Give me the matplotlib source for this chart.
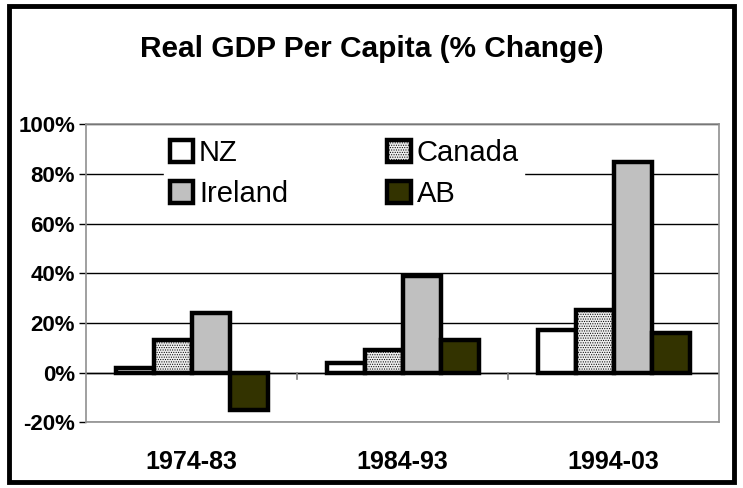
import matplotlib
matplotlib.use("Agg")
import matplotlib.pyplot as plt
import numpy as np
from matplotlib.patches import Rectangle

plt.rcParams["font.family"] = ["Liberation Sans", "DejaVu Sans"]
plt.rcParams["hatch.color"] = "#999999"
plt.rcParams["hatch.linewidth"] = 0.5

periods = ["1974-83", "1984-93", "1994-03"]
nz = [2, 4, 17]
canada = [13, 9, 25]
ireland = [24, 39, 85]
ab = [-15, 13, 16]
series = ["NZ", "Canada", "Ireland", "AB"]
yticks = [-20, 0, 20, 40, 60, 80, 100]

styles = [dict(color="white"), dict(color="#eeeeee", hatch="......."),
          dict(color="#c0c0c0"), dict(color="#333300")]

fig = plt.figure(figsize=(7.43, 4.88), dpi=100)
fig.patches.append(Rectangle((0.012, 0.012), 0.976, 0.976, transform=fig.transFigure,
                             fill=False, ec="black", lw=3.5))
ax = fig.add_axes([0.116, 0.135, 0.852, 0.61])

x = np.arange(len(periods))
w = 0.18
bars = []
for i, (name, vals) in enumerate(zip(series, [nz, canada, ireland, ab])):
    bars.append(ax.bar(x + (i - 1.5) * w, vals, w, label=name, edgecolor="black",
                       linewidth=3.2, zorder=3, **styles[i]))

ax.set_xlim(-0.5, 2.5)
ax.set_ylim(-20, 100)
ax.set_yticks(yticks)
ax.set_yticklabels([f"{v}%" for v in yticks], fontsize=16, fontweight="bold")
ax.yaxis.grid(True, color="black", lw=1)
ax.set_axisbelow(True)
ax.set_xticks([])
ax.axhline(0, color="black", lw=1, zorder=2)
for b in [0.5, 1.5]:
    ax.plot([b, b], [0, -2.5], color="#808080", lw=1.2, zorder=2)
for i, p in enumerate(periods):
    ax.text(i, -36, p, ha="center", va="center", fontsize=18, fontweight="bold")
for s in ax.spines.values():
    s.set_color("#909090")
    s.set_linewidth(1.2)
ax.tick_params(axis="y", length=5, color="black", width=1, pad=3)

# column-wise fill order -> rows NZ/Canada, Ireland/AB
order = [0, 2, 1, 3]
leg = ax.legend([bars[k] for k in order], [series[k] for k in order], ncol=2,
                loc="upper left", bbox_to_anchor=(0.1, 1.02), fontsize=21,
                frameon=True, framealpha=1, edgecolor="white", fancybox=False,
                handlelength=0.8, handleheight=0.8, handletextpad=0.2,
                columnspacing=3.4, labelspacing=0.45, borderpad=0.2)
leg.set_zorder(4)

fig.text(0.5, 0.90, "Real GDP Per Capita (% Change)", ha="center", va="center",
         fontsize=21.5, fontweight="bold")

fig.savefig("out.png", dpi=100)
